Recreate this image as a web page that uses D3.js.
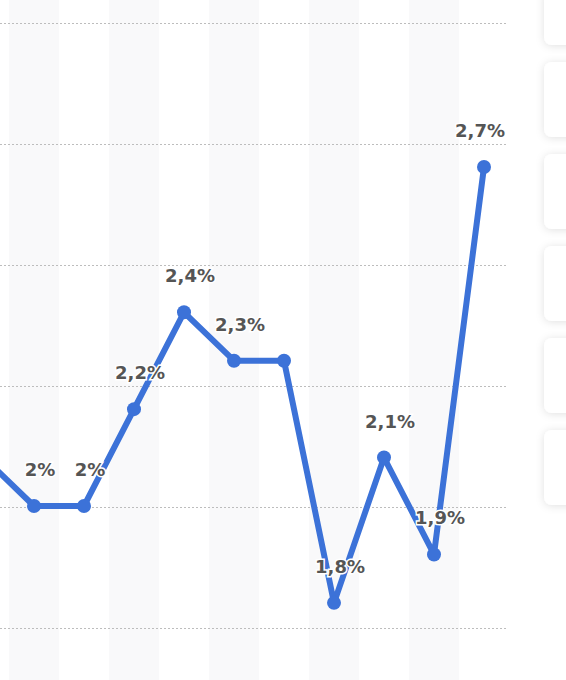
<!DOCTYPE html>
<html><head><meta charset="utf-8">
<script src="https://cdn.jsdelivr.net/npm/d3@7"></script>
<style>body{margin:0;background:#fff;overflow:hidden}</style>
</head><body>
<svg id="c" width="566" height="680"></svg>
<script>
const idx = [-1,0,1,2,3,4,5,6,7,8,9];
const values = [2.1,2.0,2.0,2.2,2.4,2.3,2.3,1.8,2.1,1.9,2.7];
const labels = [null,"2%","2%","2,2%","2,4%","2,3%",null,"1,8%","2,1%","1,9%","2,7%"];
const gridTicks = [1.75,2.0,2.25,2.5,2.75,3.0];

const svg = d3.select("#c");
const x = d3.scaleLinear().domain([0,9]).range([34,484]);
const y = d3.scaleLinear().domain([2.0,2.7]).range([506,167]);
const step = x(1)-x(0);

const defs = svg.append("defs");
const f = defs.append("filter").attr("id","sh").attr("x","-30%").attr("y","-30%").attr("width","160%").attr("height","160%");
f.append("feDropShadow").attr("dx",0).attr("dy",1).attr("stdDeviation",4).attr("flood-color","#000").attr("flood-opacity",0.12);

svg.selectAll("rect.band").data(d3.range(0,10,2)).join("rect")
  .attr("x",d=>x(d)-step/2).attr("y",0).attr("width",step).attr("height",680).attr("fill","#f9f9fa");

svg.selectAll("line.g").data(gridTicks).join("line")
  .attr("x1",0).attr("x2",508).attr("y1",d=>Math.round(y(d))+1.5).attr("y2",d=>Math.round(y(d))+1.5)
  .attr("stroke","#bdbdbd").attr("stroke-dasharray","2,2");

const btns = [[-10,45],[62,137],[154,229],[246,321],[338,413],[430,505]];
svg.selectAll("rect.b").data(btns).join("rect")
  .attr("x",544).attr("y",d=>d[0]).attr("width",40).attr("height",d=>d[1]-d[0]).attr("rx",8)
  .attr("fill","#fff").attr("filter","url(#sh)");

const pts = idx.map((d,i)=>({i:d,v:values[i],l:labels[i]}));
svg.append("path").datum(pts)
  .attr("d",d3.line().x(d=>x(d.i)).y(d=>y(d.v)))
  .attr("fill","none").attr("stroke","#3c72d8").attr("stroke-width",6).attr("stroke-linejoin","round");
svg.selectAll("circle").data(pts).join("circle")
  .attr("cx",d=>x(d.i)).attr("cy",d=>y(d.v)).attr("r",7).attr("fill","#3c72d8");
svg.selectAll("text.l").data(pts.filter(d=>d.l)).join("text")
  .attr("x",d=>x(d.i)+(d.i===9?-4:6)).attr("y",d=>y(d.v)-30).attr("text-anchor","middle")
  .attr("font-family","DejaVu Sans, sans-serif").attr("font-weight","bold").attr("font-size",18)
  .attr("fill","#555").attr("stroke","#fff").attr("stroke-width",3).attr("paint-order","stroke")
  .text(d=>d.l);
</script>
</body></html>
